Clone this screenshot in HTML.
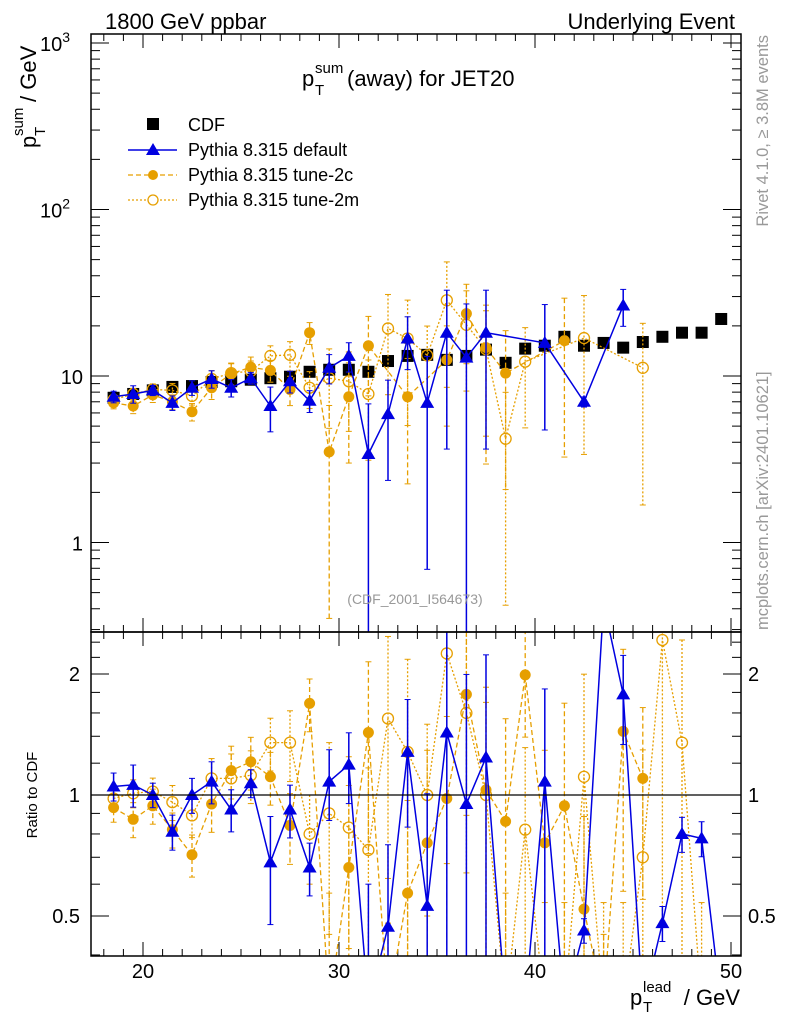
<!DOCTYPE html>
<html><head><meta charset="utf-8">
<style>
html,body{margin:0;padding:0;background:#fff;width:786px;height:1024px;overflow:hidden;}
svg{display:block;font-family:"Liberation Sans",Arial,sans-serif;}
</style></head>
<body>
<svg id="c" width="786" height="1024" viewBox="0 0 786 1024" xmlns="http://www.w3.org/2000/svg">
<defs>
<clipPath id="clipMain"><rect x="91" y="34" width="650" height="598"/></clipPath>
<clipPath id="clipRatio"><rect x="91" y="632" width="650" height="324"/></clipPath>
</defs>
<g id="axes"></g>
<g id="mainData" clip-path="url(#clipMain)"></g>
<g id="ratioData" clip-path="url(#clipRatio)"></g>
<rect x="91" y="34" width="650" height="598" fill="none" stroke="#000" stroke-width="1.5"/>
<rect x="91" y="632" width="650" height="324" fill="none" stroke="#000" stroke-width="1.5"/>
<line x1="91" y1="795" x2="741" y2="795" stroke="#000" stroke-width="1.2"/>

<text x="105" y="29" font-size="22">1800 GeV ppbar</text>
<text x="735" y="29" font-size="22" text-anchor="end">Underlying Event</text>
<g>
<text x="302" y="86" font-size="22">p</text>
<text x="315" y="73" font-size="15">sum</text>
<text x="315" y="95" font-size="15">T</text>
<text x="347" y="86" font-size="22">(away) for JET20</text>
</g>
<text x="415" y="604" font-size="14" fill="#999" text-anchor="middle">(CDF_2001_I564673)</text>

<g>
<rect x="147" y="118" width="12" height="12" fill="#000"/>
<text x="188" y="131" font-size="18">CDF</text>
<line x1="128" y1="150" x2="177" y2="150" stroke="#0000e0" stroke-width="1.5"/>
<polygon points="153,143 160,155 146,155" fill="#0000e0"/>
<text x="188" y="156" font-size="18">Pythia 8.315 default</text>
<line x1="128" y1="175" x2="177" y2="175" stroke="#e69f00" stroke-width="1.3" stroke-dasharray="5,3"/>
<circle cx="153" cy="175" r="5" fill="#e69f00"/>
<text x="188" y="181" font-size="18">Pythia 8.315 tune-2c</text>
<line x1="128" y1="200" x2="177" y2="200" stroke="#e69f00" stroke-width="1.3" stroke-dasharray="2,2"/>
<circle cx="153" cy="200" r="5" fill="#fff" stroke="#e69f00" stroke-width="1.3"/>
<text x="188" y="206" font-size="18">Pythia 8.315 tune-2m</text>
</g>

<g>
<text transform="translate(36,148) rotate(-90)" font-size="22">p</text>
<text transform="translate(23,136) rotate(-90)" font-size="15">sum</text>
<text transform="translate(45,136) rotate(-90)" font-size="15">T</text>
<text transform="translate(36,102) rotate(-90)" font-size="22">/ GeV</text>
</g>
<text transform="translate(37,795) rotate(-90)" font-size="15" text-anchor="middle">Ratio to CDF</text>
<text transform="translate(768,35) rotate(-90)" font-size="16.5" fill="#999" text-anchor="end">Rivet 4.1.0, ≥ 3.8M events</text>
<text transform="translate(768,630) rotate(-90)" font-size="16.5" fill="#999" text-anchor="start">mcplots.cern.ch [arXiv:2401.10621]</text>
<g>
<text x="630" y="1005" font-size="22">p</text>
<text x="643" y="992" font-size="15">lead</text>
<text x="643" y="1012" font-size="15">T</text>
<text x="740" y="1005" font-size="22" text-anchor="end">/ GeV</text>
</g>
</svg>
<script>
const bins = [18.5,19.5,20.5,21.5,22.5,23.5,24.5,25.5,26.5,27.5,28.5,29.5,30.5,31.5,32.5,33.5,34.5,35.5,36.5,37.5,38.5,39.5,40.5,41.5,42.5,43.5,44.5,45.5,46.5,47.5,48.5,49.5];
const cdfVals = [7.4,7.8,8.2,8.6,8.7,9.2,9.3,9.5,9.7,9.9,10.6,10.9,10.9,10.6,12.3,13.2,13.4,12.5,13.2,14.4,12.0,14.6,15.2,17.2,15.2,15.8,14.8,16.0,17.2,18.2,18.2,22.0];
const defVals = [7.5,7.8,8.2,6.9,8.5,9.6,8.5,9.7,6.6,9.3,7.1,11.2,13.2,3.4,5.9,16.8,6.9,18.2,12.9,18.2,null,null,15.8,null,7.0,null,26.5,null,null,null,null,null];
const defErr = [0.08,0.12,0.07,0.1,0.1,0.12,0.12,0.08,0.3,0.15,0.15,0.2,0.2,1.0,0.6,0.35,0.9,0.8,1.1,0.8,0,0,0.7,0,0.07,0,0.25,0,0.1,0.1,0.1,0.1];
const c2Vals = [6.9,6.6,7.7,7.0,6.1,8.5,10.3,11.3,10.8,8.3,18.2,3.5,7.5,15.2,null,7.5,null,12.5,23.7,14.8,10.4,null,null,16.3,null,null,null,null,null,null,null,null];
const c2Err = [0.08,0.1,0.1,0.1,0.12,0.15,0.15,0.15,0.15,0.2,0.15,0.9,0.6,0.5,0.6,0.7,0.7,0.6,0.5,0.8,0.8,0.3,0.7,0.8,0.7,0.5,0.6,0.5,0.5,0.5,0.5,0.5];
const m2Vals = [7.2,7.8,8.3,8.2,7.6,9.6,10.4,10.7,13.2,13.4,8.5,9.7,9.3,7.8,19.3,16.8,13.3,28.5,20.3,14.5,4.2,12.2,null,null,16.9,null,null,11.2,null,null,null,null];
const m2Err = [0.06,0.08,0.08,0.1,0.12,0.12,0.15,0.15,0.15,0.2,0.25,0.5,0.5,0.6,0.6,0.7,0.5,0.7,0.6,0.7,0.9,0.6,0.8,0.8,0.8,0.8,0.8,0.85,0.8,0.8,0.8,0.8];
const defRatio = [1.05,1.06,1.0,0.81,1.0,1.08,0.92,1.07,0.68,0.92,0.66,1.08,1.19,0.3,0.47,1.28,0.53,1.43,0.95,1.24,0.3,0.3,1.08,0.3,0.46,3.0,1.78,0.3,0.48,0.8,0.78,0.3];
const c2Ratio = [0.93,0.87,0.94,0.82,0.71,0.95,1.15,1.21,1.11,0.84,1.69,0.3,0.66,1.43,0.3,0.57,0.76,0.98,1.78,1.03,0.86,1.99,0.76,0.94,0.52,0.3,1.44,1.1,null,null,null,null];
const m2Ratio = [0.98,1.01,1.02,0.96,0.89,1.1,1.1,1.12,1.35,1.35,0.8,0.9,0.83,0.73,1.55,1.28,1.0,2.25,1.6,1.0,0.3,0.82,0.3,0.3,1.11,0.3,0.3,0.7,2.43,1.35,0.3,null];
const xTicks = [20,30,40,50];
const yMainTicks = [1,10,100,1000];
const yRatioTicks = [0.5,1,2];

const NS="http://www.w3.org/2000/svg";
function xs(v){return 143+19.6*(v-20);}
function ym(v){return 542.5-166.5*Math.log10(v);}
function yr(v){return 795-121*Math.log2(v);}
function mk(tag,attrs,parent){const e=document.createElementNS(NS,tag);for(const k in attrs)e.setAttribute(k,attrs[k]);parent.appendChild(e);return e;}
const axes=document.getElementById('axes');
const mainG=document.getElementById('mainData');
const ratioG=document.getElementById('ratioData');

for(let v=18;v<=50;v++){
  const major=v%10===0, len=major?14:7;
  const x=xs(v);
  for(const [yb,yt] of [[632,34],[956,632]]){
    mk('line',{x1:x,y1:yb,x2:x,y2:yb-len,stroke:'#000','stroke-width':1},axes);
    mk('line',{x1:x,y1:yt,x2:x,y2:yt+len,stroke:'#000','stroke-width':1},axes);
  }
}
xTicks.forEach(v=>{
  const t=mk('text',{x:xs(v),y:978,'font-size':20,'text-anchor':'middle'},axes);
  t.textContent=v;
  
  
});
for(let d=-1;d<=3;d++){
  for(let m=1;m<10;m++){
    const v=m*Math.pow(10,d), y=ym(v);
    if(y<34||y>632)continue;
    const len=m===1?18:9;
    mk('line',{x1:91,y1:y,x2:91+len,y2:y,stroke:'#000','stroke-width':1},axes);
    mk('line',{x1:741,y1:y,x2:741-len,y2:y,stroke:'#000','stroke-width':1},axes);
  }
}
const yLab={1:'1',10:'10',100:'10<tspan font-size="14" dy="-9">2</tspan>',1000:'10<tspan font-size="14" dy="-9">3</tspan>'};
yMainTicks.forEach(v=>{
  const t=mk('text',{x:83,y:ym(v)+8,'font-size':20,'text-anchor':'end'},axes);
  t.innerHTML=yLab[v];
  if(v>=100){t.setAttribute('x',70);}
  
  
});
[0.4,0.5,0.6,0.7,0.8,0.9,1,1.2,1.4,1.6,1.8,2,2.2,2.4].forEach(v=>{
  const y=yr(v); if(y<632||y>956)return;
  const len=(v===0.5||v===1||v===2)?18:9;
  mk('line',{x1:91,y1:y,x2:91+len,y2:y,stroke:'#000','stroke-width':1},axes);
  mk('line',{x1:741,y1:y,x2:741-len,y2:y,stroke:'#000','stroke-width':1},axes);
});
yRatioTicks.forEach(v=>{
  const t=mk('text',{x:80,y:yr(v)+7,'font-size':20,'text-anchor':'end'},axes);
  t.textContent=v;
  
  
  const t2=mk('text',{x:748,y:yr(v)+7,'font-size':20,'text-anchor':'start'},axes);
  t2.textContent=v;
  
  
});

function drawSeries(g,vals,errs,yf,style,name){
  const pts=[];
  vals.forEach((v,i)=>{ if(v!==null && v!==undefined) pts.push([xs(bins[i]),yf(v),v,i]); });
  if(errs){
    pts.forEach(p=>{
      const v=p[2], e=errs[p[3]]; if(!e)return;
      const hi=v*(1+e), lo=Math.max(v*(1-e),1e-3);
      const b=mk('line',{x1:p[0],y1:yf(hi),x2:p[0],y2:yf(lo),stroke:style.color,'stroke-width':style.w,'stroke-dasharray':style.dash||'none'},g);
      
      
      mk('line',{x1:p[0]-3,y1:yf(hi),x2:p[0]+3,y2:yf(hi),stroke:style.color,'stroke-width':1},g);
      if(v*(1-e)>1e-3) mk('line',{x1:p[0]-3,y1:yf(lo),x2:p[0]+3,y2:yf(lo),stroke:style.color,'stroke-width':1},g);
    });
  }
  if(style.line){
    const pl=mk('polyline',{points:pts.map(p=>p[0]+','+p[1]).join(' '),fill:'none',stroke:style.color,'stroke-width':style.w,'stroke-dasharray':style.dash||'none'},g);
    
    
  }
  pts.forEach(p=>{
    let e;
    if(style.marker==='square') e=mk('rect',{x:p[0]-6,y:p[1]-6,width:12,height:12,fill:'#000'},g);
    else if(style.marker==='tri') e=mk('polygon',{points:`${p[0]},${p[1]-7} ${p[0]+7},${p[1]+5} ${p[0]-7},${p[1]+5}`,fill:style.color},g);
    else if(style.marker==='dot') e=mk('circle',{cx:p[0],cy:p[1],r:5.5,fill:style.color},g);
    else e=mk('circle',{cx:p[0],cy:p[1],r:5.5,fill:'none',stroke:style.color,'stroke-width':1.3},g);
    
    
  });
}
const sCdf={marker:'square',color:'#000',w:1,line:false};
const sDef={marker:'tri',color:'#0000e0',w:1.5,line:true};
const s2c={marker:'dot',color:'#e69f00',w:1.3,line:true,dash:'5,3'};
const s2m={marker:'open',color:'#e69f00',w:1.3,line:true,dash:'2,2'};
drawSeries(mainG,cdfVals,null,ym,sCdf,'cdf');
drawSeries(mainG,m2Vals,m2Err,ym,s2m,'tune-2m');
drawSeries(mainG,c2Vals,c2Err,ym,s2c,'tune-2c');
drawSeries(mainG,defVals,defErr,ym,sDef,'default');
drawSeries(ratioG,m2Ratio,m2Err,yr,s2m,'ratio-tune-2m');
drawSeries(ratioG,c2Ratio,c2Err,yr,s2c,'ratio-tune-2c');
drawSeries(ratioG,defRatio,defErr,yr,sDef,'ratio-default');
</script>
</body></html>
